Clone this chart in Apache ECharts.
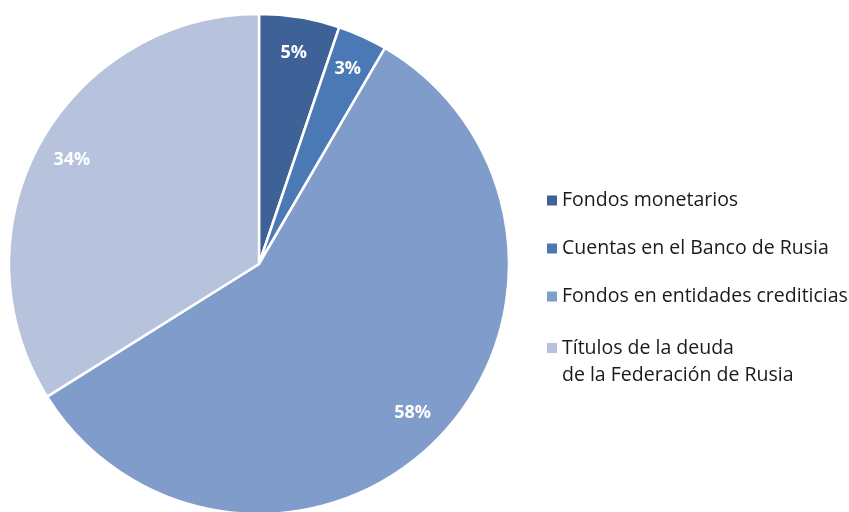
<!DOCTYPE html>
<html>
<head>
<meta charset="utf-8">
<script src="https://cdn.jsdelivr.net/npm/echarts@6/dist/echarts.min.js"></script>
<style>
  html, body { margin: 0; padding: 0; background: #fff; }
  #chart { width: 849px; height: 512px; }
</style>
</head>
<body>
<div id="chart"></div>
<script>
// datos
var categories = [
  'Fondos monetarios',
  'Cuentas en el Banco de Rusia',
  'Fondos en entidades crediticias',
  'Títulos de la deuda de la Federación de Rusia'
]
var shares = [5.2, 3.2, 57.7, 33.9]
var colors = ['#3e6197', '#4a79b6', '#7f9cca', '#b7c3dd']

var pieData = categories.map(function (name, i) {
  return { name: name, value: shares[i], itemStyle: { color: colors[i] } }
})

var chart = echarts.init(document.getElementById('chart'), null, { renderer: 'canvas' })

var legendText = {
  fontFamily: 'Open Sans',
  fontSize: 19.5,
  color: '#1a1a1a',
  lineHeight: 27
}

chart.setOption({
  animation: false,
  legend: [
    {
      data: categories.slice(0, 3),
      orient: 'vertical',
      left: 547,
      top: 187,
      padding: 0,
      icon: 'rect',
      itemWidth: 10,
      itemHeight: 10,
      itemGap: 21,
      itemStyle: { borderWidth: 0 },
      selectedMode: false,
      textStyle: legendText
    },
    {
      // icono alineado con la primera línea del texto de dos líneas
      data: categories.slice(3),
      orient: 'vertical',
      left: 547,
      top: 334.5,
      padding: 0,
      icon: 'path://M0,0H10V10H0Z M0,36.99L0.001,37L0,37Z',
      itemWidth: 10,
      itemHeight: 37,
      itemStyle: { borderWidth: 0 },
      selectedMode: false,
      formatter: function (name) {
        return name.replace(' de la Federación', '\nde la Federación')
      },
      textStyle: legendText
    }
  ],
  series: [
    {
      type: 'pie',
      center: [259, 264],
      radius: [0, 250],
      startAngle: 90,
      clockwise: true,
      data: pieData,
      itemStyle: { borderColor: '#fff', borderWidth: 2.5 },
      label: { show: false },
      labelLine: { show: false },
      emphasis: { disabled: true }
    },
    {
      // anillo invisible solo para colocar las etiquetas cerca del borde
      type: 'pie',
      center: [259, 264],
      radius: [172, 250],
      startAngle: 90,
      clockwise: true,
      silent: true,
      data: pieData.map(function (d) {
        return { name: d.name, value: d.value, itemStyle: { color: 'rgba(0,0,0,0)' } }
      }),
      itemStyle: { borderWidth: 0 },
      label: {
        show: true,
        position: 'inside',
        color: '#fff',
        fontFamily: 'Open Sans',
        fontWeight: 'bold',
        fontSize: 18,
        formatter: function (p) { return Math.round(p.value) + '%' }
      },
      labelLine: { show: false },
      emphasis: { disabled: true }
    }
  ]
})
</script>
</body>
</html>
